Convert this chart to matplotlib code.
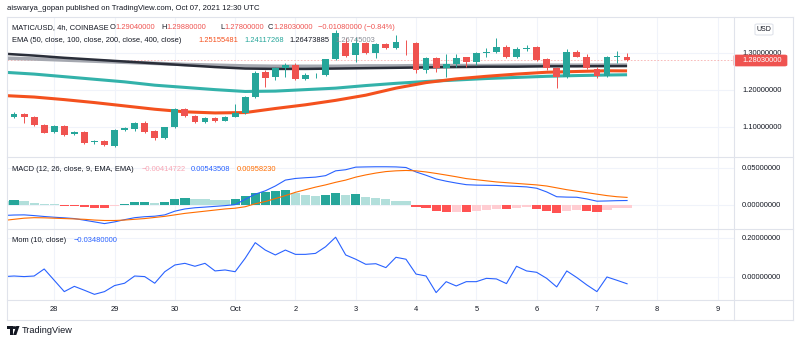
import matplotlib
matplotlib.use("Agg")
import matplotlib.pyplot as plt
from matplotlib.patches import FancyBboxPatch, Polygon, Circle, Rectangle
from matplotlib.lines import Line2D
import numpy as np

plt.rcParams['font.family'] = ['Liberation Sans', 'DejaVu Sans']

# ---------------- data (4h candles, first = 27 Sep 04:00 UTC) ----------------
opens = [1.150, 1.128, 1.135, 1.126, 1.105, 1.087, 1.103, 1.081, 1.087, 1.059,
         1.062, 1.049, 1.092, 1.094, 1.112, 1.090, 1.070, 1.099, 1.148, 1.130,
         1.114, 1.124, 1.117, 1.128, 1.137, 1.180, 1.248, 1.236, 1.259, 1.268,
         1.229, 1.240, 1.2405, 1.283, 1.328, 1.2946, 1.328, 1.299, 1.324, 1.313,
         1.331, 1.328, 1.254, 1.287, 1.260, 1.269, 1.288, 1.2765, 1.299, 1.3035,
         1.317, 1.290, 1.311, 1.317, 1.283, 1.2586, 1.2343, 1.3035, 1.290, 1.257,
         1.2386, 1.2900, 1.2904]
highs = [1.156, 1.140, 1.138, 1.129, 1.108, 1.106, 1.106, 1.090, 1.089, 1.066,
         1.064, 1.094, 1.099, 1.114, 1.115, 1.092, 1.101, 1.150, 1.151, 1.133,
         1.127, 1.126, 1.130, 1.161, 1.183, 1.251, 1.255, 1.262, 1.272, 1.272,
         1.245, 1.246, 1.285, 1.362, 1.340, 1.344, 1.331, 1.327, 1.326, 1.3486,
         1.334, 1.331, 1.290, 1.290, 1.296, 1.298, 1.290, 1.302, 1.313, 1.340,
         1.322, 1.315, 1.322, 1.320, 1.286, 1.262, 1.312, 1.308, 1.296, 1.262,
         1.293, 1.305, 1.2988]
lows = [1.128, 1.124, 1.110, 1.102, 1.083, 1.084, 1.075, 1.078, 1.055, 1.054,
        1.048, 1.046, 1.089, 1.089, 1.083, 1.066, 1.068, 1.097, 1.127, 1.110,
        1.112, 1.114, 1.115, 1.126, 1.135, 1.178, 1.207, 1.228, 1.234, 1.226,
        1.226, 1.232, 1.238, 1.280, 1.290, 1.2765, 1.296, 1.286, 1.310, 1.310,
        1.295, 1.247, 1.245, 1.248, 1.236, 1.263, 1.262, 1.268, 1.288, 1.300,
        1.287, 1.287, 1.305, 1.279, 1.255, 1.2046, 1.232, 1.288, 1.256, 1.2316,
        1.236, 1.272, 1.278]
closes = [1.133, 1.135, 1.126, 1.105, 1.085, 1.103, 1.078, 1.087, 1.058, 1.063,
          1.051, 1.092, 1.096, 1.112, 1.087, 1.070, 1.099, 1.148, 1.130, 1.114,
          1.124, 1.117, 1.128, 1.137, 1.180, 1.247, 1.233, 1.259, 1.268, 1.229,
          1.2405, 1.241, 1.283, 1.353, 1.292, 1.328, 1.299, 1.324, 1.313, 1.3305,
          1.329, 1.254, 1.287, 1.259, 1.269, 1.287, 1.277, 1.299, 1.3035, 1.315,
          1.290, 1.310, 1.3135, 1.281, 1.2586, 1.2343, 1.3035, 1.290, 1.2586, 1.2386,
          1.290, 1.2904, 1.2803]

# EMA readings at sampled candle positions
ema_idx = [0, 3, 6, 9, 12, 15, 18, 21, 24, 27, 30, 33, 36, 39, 42, 45, 48, 51, 54, 57, 60, 62]
ema50 = [1.185, 1.181, 1.174, 1.166, 1.157, 1.148, 1.141, 1.138, 1.139, 1.150, 1.160,
         1.172, 1.186, 1.205, 1.220, 1.230, 1.237, 1.243, 1.248, 1.250, 1.252, 1.2516]
ema100 = [1.248, 1.243, 1.236, 1.229, 1.222, 1.213, 1.207, 1.201, 1.196, 1.197, 1.201,
          1.205, 1.212, 1.218, 1.223, 1.227, 1.231, 1.234, 1.237, 1.239, 1.2405, 1.2412]
ema200 = [1.298, 1.293, 1.287, 1.282, 1.277, 1.272, 1.267, 1.262, 1.258, 1.257, 1.257,
          1.258, 1.259, 1.260, 1.261, 1.262, 1.263, 1.263, 1.264, 1.264, 1.2645, 1.2647]
ema400 = [1.286, 1.284, 1.281, 1.278, 1.275, 1.272, 1.269, 1.267, 1.265, 1.264, 1.264,
          1.264, 1.265, 1.265, 1.266, 1.266, 1.266, 1.267, 1.267, 1.267, 1.2673, 1.2674]

macd = [-0.0148, -0.0142, -0.0140, -0.0150, -0.0162, -0.0172, -0.0180, -0.0190, -0.0212, -0.0235,
        -0.0258, -0.0235, -0.0205, -0.0178, -0.0165, -0.0158, -0.0140, -0.0090, -0.0060, -0.0044,
        -0.0035, -0.0025, -0.0015, -0.0002, 0.0070, 0.0140, 0.0185, 0.0250, 0.0330, 0.0352,
        0.0362, 0.0370, 0.0390, 0.0455, 0.0470, 0.0505, 0.0508, 0.0510, 0.0510, 0.0508,
        0.0500, 0.0440, 0.0395, 0.0345, 0.0315, 0.0290, 0.0268, 0.0262, 0.0260, 0.0258,
        0.0250, 0.0245, 0.0238, 0.0220, 0.0170, 0.0105, 0.0100, 0.0098, 0.0075, 0.0045,
        0.0048, 0.0052, 0.0054]
signal = [-0.0215, -0.0200, -0.0185, -0.0178, -0.0180, -0.0185, -0.0190, -0.0195, -0.0200, -0.0210,
          -0.0216, -0.0216, -0.0210, -0.0200, -0.0190, -0.0175, -0.0160, -0.0140, -0.0120, -0.0105,
          -0.0090, -0.0075, -0.0060, -0.0050, -0.0030, 0.0010, 0.0040, 0.0080, 0.0120, 0.0165,
          0.0200, 0.0235, 0.0265, 0.0300, 0.0330, 0.0370, 0.0400, 0.0425, 0.0445, 0.0455,
          0.0460, 0.0455, 0.0440, 0.0420, 0.0398, 0.0375, 0.0350, 0.0335, 0.0320, 0.0305,
          0.0295, 0.0285, 0.0275, 0.0265, 0.0250, 0.0225, 0.0200, 0.0180, 0.0160, 0.0140,
          0.0120, 0.0105, 0.0096]
hist = [0.0052, 0.0059, 0.0045, 0.0027, 0.0009, 0.0005, -0.0014, -0.0016, -0.0040, -0.0042,
        -0.0045, -0.0018, 0.0003, 0.0032, 0.0033, 0.0014, 0.0032, 0.0072, 0.0090, 0.0072,
        0.0071, 0.0063, 0.0062, 0.0072, 0.0117, 0.0162, 0.0171, 0.0180, 0.0194, 0.0162,
        0.0135, 0.0115, 0.0126, 0.0158, 0.0135, 0.0138, 0.0104, 0.0090, 0.0068, 0.0054,
        0.0041, -0.0032, -0.0045, -0.0081, -0.0099, -0.0097, -0.0100, -0.0081, -0.0068, -0.0054,
        -0.0056, -0.0045, -0.0036, -0.0059, -0.0081, -0.0113, -0.0081, -0.0068, -0.0081, -0.0099,
        -0.0068, -0.0050, -0.0041]
mom = [0.002, 0.005, 0.002, 0.005, 0.041, -0.017, -0.075, -0.048, -0.068, -0.089,
       -0.075, -0.044, -0.032, 0.005, 0.002, -0.032, 0.027, 0.0615, 0.070, 0.055,
       0.070, 0.031, 0.036, 0.027, 0.096, 0.176, 0.138, 0.113, 0.138, 0.116,
       0.116, 0.121, 0.155, 0.204, 0.113, 0.091, 0.065, 0.068, 0.048, 0.101,
       0.091, 0.015, 0.005, -0.080, -0.024, -0.046, -0.024, -0.024, -0.007, -0.010,
       -0.034, 0.055, 0.031, 0.024, -0.007, -0.051, 0.031, -0.003, -0.041, -0.075,
       0.000, -0.017, -0.0348]

day_labels = ['28', '29', '30', 'Oct', '2', '3', '4', '5', '6', '7', '8', '9']
price_ticks = [1.1, 1.2, 1.3]
macd_ticks = [0.0, 0.05]
mom_ticks = [0.0, 0.2]
last_price = 1.2803

# ---------------- styling ----------------
W, H = 800, 343
fig = plt.figure(figsize=(8, 3.43), dpi=100)
fig.patch.set_facecolor('white')

UP, DN = '#26A69A', '#EF5350'
TXT = '#131722'
GRID = '#F0F3FA'
BORDER = '#E0E3EB'
FS = 5.4

def ax_px(x0, y0, x1, y1):
    return fig.add_axes([x0 / W, 1 - y1 / H, (x1 - x0) / W, (y1 - y0) / H])

def fx(x):
    return x / W

def fy(y):
    return 1 - y / H

n = len(closes)
idx = np.arange(n)
# candles start at 27 Sep 04:00 -> day boundaries every 6 candles from 28 Sep 00:00
day_pos = [5 + 6 * k for k in range(len(day_labels))]
XL = (0.3, 72.64)

ax1 = ax_px(7, 17, 734, 157)
ax2 = ax_px(7, 157, 734, 229)
ax3 = ax_px(7, 229, 734, 300)

for ax in (ax1, ax2, ax3):
    ax.set_xlim(*XL)
    ax.set_facecolor('white')
    for s in ax.spines.values():
        s.set_visible(False)
    ax.set_xticks(day_pos)
    ax.grid(True, color=GRID, lw=0.8, zorder=0)
    ax.set_axisbelow(True)
    ax.yaxis.tick_right()
    ax.tick_params(axis='y', length=0, pad=5.8, labelsize=FS, labelcolor=TXT)
    ax.tick_params(axis='x', length=0)

ax1.set_xticklabels([])
ax2.set_xticklabels([])
ax3.set_xticklabels(day_labels)
ax3.tick_params(axis='x', pad=4.6, labelsize=FS, labelcolor=TXT)

# ---- main pane ----
ax1.set_ylim(1.0189, 1.3973)
ax1.set_yticks(price_ticks)
ax1.set_yticklabels(['%.8f' % v for v in price_ticks])

ax1.plot(ema_idx, ema400, color='#A5A8B0', lw=2.6, zorder=2, solid_capstyle='butt')
ax1.plot(ema_idx, ema200, color='#2A2E39', lw=1.8, zorder=2.1, solid_capstyle='butt')
ax1.plot(ema_idx, ema100, color='#33B2AA', lw=2.2, zorder=2.2, solid_capstyle='butt')
ax1.plot(ema_idx, ema50, color='#F4511E', lw=2.2, zorder=2.3, solid_capstyle='butt')

ax1.axhline(last_price, color=DN, lw=0.6, ls=(0, (2, 2)), alpha=0.45, zorder=1.5)

cols = [UP if c >= o else DN for o, c in zip(opens, closes)]
bottoms = [min(o, c) for o, c in zip(opens, closes)]
heights = [max(abs(c - o), 0.0018) for o, c in zip(opens, closes)]
ax1.vlines(idx, lows, highs, colors=cols, lw=0.7, zorder=3)
ax1.bar(idx, heights, bottom=bottoms, width=0.68, color=cols, zorder=3.1, linewidth=0)

# ---- MACD pane ----
ax2.set_ylim(-0.0331, 0.0642)
ax2.set_yticks(macd_ticks)
ax2.set_yticklabels(['%.8f' % v for v in macd_ticks])
hcols = []
for i, h in enumerate(hist):
    prev = hist[i - 1] if i > 0 else h
    if h >= 0:
        hcols.append('#26A69A' if h > prev else '#B2DFDB')
    else:
        hcols.append('#FF5252' if h < prev else '#FFCDD2')
ax2.bar(idx, hist, width=0.92, color=hcols, linewidth=0, zorder=2)
ax2.plot(idx, macd, color='#2962FF', lw=0.8, zorder=3)
ax2.plot(idx, signal, color='#FF6D00', lw=0.8, zorder=3)

# ---- Momentum pane ----
ax3.set_ylim(-0.118, 0.246)
ax3.set_yticks(mom_ticks)
ax3.set_yticklabels(['%.8f' % v for v in mom_ticks])
ax3.plot(idx, mom, color='#2962FF', lw=0.8, zorder=3)

# ---------------- frame / separators ----------------
def hline(y, x0=7, x1=793):
    fig.add_artist(Line2D([fx(x0), fx(x1)], [fy(y), fy(y)], color=BORDER, lw=0.8))

def vline(x, y0, y1):
    fig.add_artist(Line2D([fx(x), fx(x)], [fy(y0), fy(y1)], color=BORDER, lw=0.8))

hline(17)
hline(157)
hline(229)
hline(300)
hline(319.5)
vline(7, 17, 319.5)
vline(793, 17, 319.5)
vline(734, 17, 319.5)

# ---------------- texts ----------------
def t(x, y, s, color=TXT, size=FS, **kw):
    fig.text(fx(x), fy(y), s, color=color, fontsize=size, va='center', ha='left', **kw)

t(7, 9, 'aiswarya_gopan published on TradingView.com, Oct 07, 2021 12:30 UTC', size=5.6)

t(12, 27.5, 'MATIC/USD, 4h, COINBASE')
t(110, 27.5, 'O'); t(115, 27.5, '1.29040000', color=DN)
t(161, 27.5, 'H'); t(166, 27.5, '1.29880000', color=DN)
t(220, 27.5, 'L'); t(224, 27.5, '1.27800000', color=DN)
t(268, 27.5, 'C'); t(273, 27.5, '1.28030000', color=DN)
t(318, 27.5, '\u22120.01080000 (\u22120.84%)', color=DN)

t(12, 40.5, 'EMA (50, close, 100, close, 200, close, 400, close)')
t(198, 40.5, '1.25155481', color='#F4511E')
t(244, 40.5, '1.24117268', color='#26A69A')
t(289, 40.5, '1.26473885', color=TXT)
t(335, 40.5, '1.26745003', color='#8A8D96')

t(12.5, 169.3, 'MACD (12, 26, close, 9, EMA, EMA)')
t(141.5, 169.3, '\u22120.00414722', color='#F8A5B3')
t(190.5, 169.3, '0.00543508', color='#2962FF')
t(237, 169.3, '0.00958230', color='#FF6D00')

t(12.3, 240, 'Mom (10, close)')
t(74, 240, '\u22120.03480000', color='#2962FF')

# USD box
fig.add_artist(FancyBboxPatch((fx(755), fy(35)), fx(18), 11 / H,
                              boxstyle='round,pad=0,rounding_size=0.003',
                              facecolor='white', edgecolor=BORDER, lw=0.8))
fig.text(fx(764), fy(29.5), 'USD', fontsize=5, color=TXT, ha='center', va='center')

# last price label
fig.add_artist(FancyBboxPatch((fx(734), fy(66)), fx(53), 11 / H,
                              boxstyle='round,pad=0,rounding_size=0.003',
                              facecolor=DN, edgecolor=DN, lw=0.5))
fig.text(fx(742), fy(60.5), '%.8f' % last_price, fontsize=FS, color='white',
         ha='left', va='center')

# TradingView logo
fig.add_artist(Rectangle((fx(7), fy(329)), fx(5.5), 3 / H, color=TXT, lw=0))
fig.add_artist(Rectangle((fx(9.5), fy(335)), fx(3), 9 / H, color=TXT, lw=0))
fig.add_artist(Circle((fx(14.2), fy(327.6)), 1.4 / H, color=TXT, lw=0))
fig.add_artist(Polygon([(fx(16.3), fy(326)), (fx(19.5), fy(326)), (fx(16.3), fy(335)),
                        (fx(13.1), fy(335))], closed=True, color=TXT, lw=0))
t(22, 330.8, 'TradingView', size=6.6)

fig.savefig('out.png', dpi=100, facecolor='white')
